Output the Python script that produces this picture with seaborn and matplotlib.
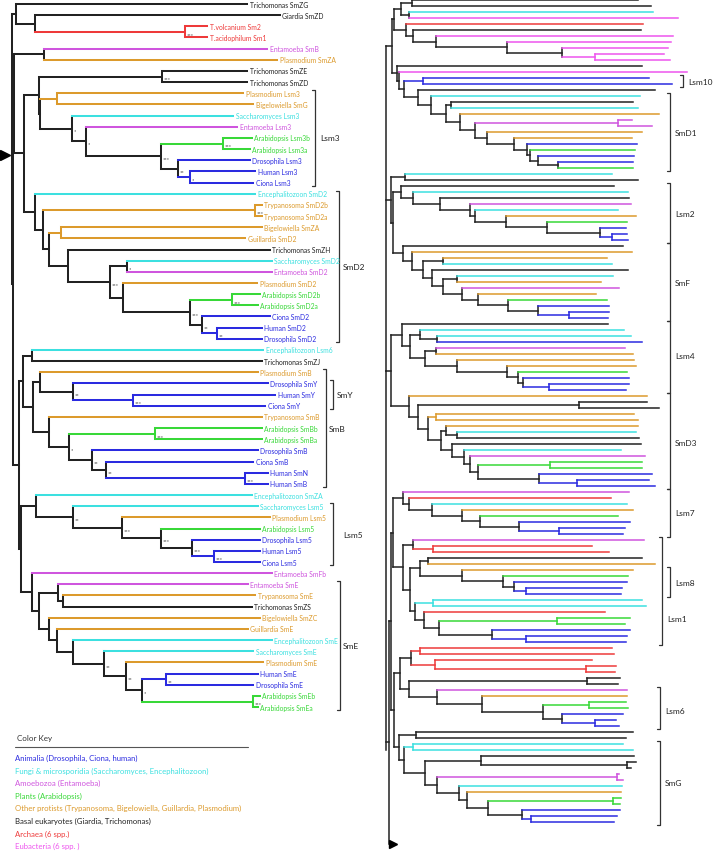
import re

import matplotlib
matplotlib.use("Agg")
import matplotlib.pyplot as plt
import pandas as pd
import seaborn as sns

# ---------------------------------------------------------------- colours
GROUPS = ["animal", "fungi", "amoeba", "plant", "protist", "basal", "archaea", "eubact"]
GROUP_HEX = ["#2b2be0", "#3ce0e0", "#cf55de", "#38d838", "#dc9a2c", "#222222", "#ee3a3a", "#ee55ee"]
KEY_LABELS = [
    "Animalia (Drosophila, Ciona, human)",
    "Fungi & microsporidia (Saccharomyces, Encephalitozoon)",
    "Amoebozoa (Entamoeba)",
    "Plants (Arabidopsis)",
    "Other protists (Trypanosoma, Bigelowiella, Guillardia, Plasmodium)",
    "Basal eukaryotes (Giardia, Trichomonas)",
    "Archaea (6 spp.)",
    "Eubacteria (6 spp. )",
]
GENUS_GROUP = {
    "Drosophila": "animal", "Human": "animal", "Ciona": "animal",
    "Saccharomyces": "fungi", "Encephalitozoon": "fungi",
    "Entamoeba": "amoeba", "Arabidopsis": "plant",
    "Plasmodium": "protist", "Bigelowiella": "protist",
    "Trypanosoma": "protist", "Guillardia": "protist",
    "Trichomonas": "basal", "Giardia": "basal",
    "T.volcanium": "archaea", "T.acidophilum": "archaea",
}
RIGHT_CODE = {"b": "animal", "c": "fungi", "m": "amoeba", "g": "plant",
              "o": "protist", "k": "basal", "r": "archaea", "e": "eubact"}

# ---------------------------------------------------------------- left tree
# node depth after ':' (distance from the panel root), bootstrap in [...]
L_TOP = "(Trichomonas SmZG:235,(Giardia SmZD:268,(T.volcanium Sm2:195,T.acidophilum Sm1:195):173[***]):23):4"
L_SMB_SMZA = "(Entamoeba SmB:255,Plasmodium SmZA:265):32"
L_LSM3 = ("((Trichomonas SmZE:235,Trichomonas SmZD:235):150[***],((Plasmodium Lsm3:231,Bigelowiella SmG:241):45,"
          "(Saccharomyces Lsm3:221,(Entamoeba Lsm3:225,((Arabidopsis Lsm3b:240,Arabidopsis Lsm3a:238):211[***],"
          "(Drosophila Lsm3:238,(Human Lsm3:243,Ciona Lsm3:241):178[*]):166[**]):149[***]):74[*]):60[*]):28):27")
L_SMD2 = ("(Encephalitozoon SmD2:243,((Trypanosoma SmD2b:250,Trypanosoma SmD2a:250):243[***],"
          "((Bigelowiella SmZA:250,Guillardia SmD2:233):49,(Trichomonas SmZH:258,"
          "((Saccharomyces SmD2:260,Entamoeba SmD2:260):115[*],(Plasmodium SmD2:245,"
          "((Arabidopsis SmD2b:248,Arabidopsis SmD2a:246):220[***],(Ciona SmD2:258,"
          "(Human SmD2:250,Drosophila SmD2:250):205[**]):190[**]):178[***]):111):98[***]):56):37):31):23")
L_SMY_SMB = ("((Encephalitozoon Lsm6:251,Trichomonas SmZJ:250):20,((Plasmodium SmB:246,(Drosophila SmY:256,"
             "(Human SmY:263,Ciona SmY:253):121[***]):61[**]):28,(Trypanosoma SmB:250,"
             "((Arabidopsis SmBb:250,Arabidopsis SmBa:250):143[***],(Drosophila SmB:246,(Ciona SmB:241,"
             "(Human SmN:256,Human SmB:256):233[***]):94[**]):80[**]):57[*]):37):21):11")
L_LSM5 = ("(Encephalitozoon SmZA:240,(Saccharomyces Lsm5:246,(Plasmodium Lsm5:258,(Arabidopsis Lsm5:248,"
          "(Drosophila Lsm5:248,(Human Lsm5:248,Ciona Lsm5:248):202[***]):180[***]):149[***]):110[***]):61[**]):24")
L_SME = ("(Entamoeba SmFb:260,((Entamoeba SmE:236,(Trypanosoma SmE:243,Trichomonas SmZS:240):51):46,"
         "(Bigelowiella SmZC:248,(Guillardia SmE:236,(Encephalitozoon SmE:260,(Saccharomyces SmE:241,"
         "(Plasmodium SmE:251,((Human SmE:246,Drosophila SmE:241):154[**],"
         "(Arabidopsis SmEb:248,Arabidopsis SmEa:246):241[***]):130[*]):114[**]):92[**]):61):45):37):27):20")
LEFT_TREE = (f"({L_TOP},(({L_SMB_SMZA},({L_LSM3},{L_SMD2}):12):2,"
             f"({L_SMY_SMB},({L_LSM5},{L_SME}):9):7):1):0")

# ---------------------------------------------------------------- right tree (unlabelled)
R_G12 = ("((((k:252,k:265):26,(c:267,e:292):23):15,(r:257,(k:255,(e:287,(e:285,(e:282,(e:278,e:284):209):176)"
         ":121):50):27):20):8,(k:256,(e:301,((b:263,b:286):37,(k:269,(c:254,((k:247,c:252):65,(o:273,"
         "((m:246,m:266):232,(o:256,(o:246,(b:251,(g:249,(b:248,(b:247,g:247):172):152):144):141):128):101)"
         ":89):74):60):45):32):18):13):11):6")
R_LSM2 = "(k:228,(c:242,(k:243,(m:245,(c:232,(o:250,(g:241,(b:240,(b:241,b:242):226):214):161):120):89):84):54):27):15"
R_SMF = ("(k:237,(o:246,((o:221,c:226):57,(k:242,((c:227,o:215):71,(m:233,(o:210,(g:221,(b:223,"
         "(b:223,b:222):183):152):122):92):76):57):46):37):26):17")
R_LSM4 = ("(k:222,((c:238,(c:245,b:256):51):34,((m:239,o:247):50,(o:248,(o:250,(g:241,(b:243,"
          "(b:243,b:240):163):137):132):121):71):39):24):16")
R_SMD3 = ("(o:261,((k:261,k:273):193,((o:248,o:252):50,((o:252,(c:250,k:253):71):60,(k:255,(c:235,"
          "(m:259,((g:256,g:256):164,(b:266,(b:263,b:269):191):153):92):84):78):66):55):42):32):23")
R_LSM7 = "(m:243,(r:225,(c:241,(o:247,(g:232,(b:244,(b:239,b:237):173):133):94):76):46):23):17"
R_LSM1 = ("((m:258,(r:206,r:223):47):27,(((k:256,o:269):42,(o:247,(g:242,(b:241,(b:236,b:235):140):128)"
          ":117):76):34,((c:256,c:260):47,(r:219,((g:244,g:239):171,(b:244,(b:241,b:240):140):106):53):38):29):24):17")
R_LSM6 = ("(((r:226,r:228):34,(r:206,(r:230,r:229):200):49[=]):25,((k:234,k:232):201,(m:241,(o:241,"
          "((g:240,g:242):203,(b:237,(b:230,b:233):209):176):157):96):51):23):14")
R_SMG = ("((k:247,k:240):30,((c:237,c:247):27,((k:248,(k:250,k:245):241):95,((m:233,m:237):231,(c:236,"
         "(o:235,((g:235,g:234):227,(b:234,(b:231,b:228):145):136):102):81):73):51):39):18):13")
R_TOP = f"({R_G12},((c:226,k:252):19,({R_LSM2},{R_SMF}):7):5,({R_LSM4},{R_SMD3}):5):0"
R_BOTTOM = f"(({R_LSM7},{R_LSM1}):7,({R_LSM6},{R_SMG}):8):5"
R_STEM_DEPTH = 3

# clade brackets: (label, first leaf, last leaf)
LEFT_CLADES = [("Lsm3", 8, 16), ("SmD2", 17, 30), ("SmY", 34, 36), ("SmB", 33, 43),
               ("Lsm5", 45, 50), ("SmE", 52, 63)]
LEFT_BRACKET_X = [315, 339, 333, 326, 333, 340]
LEFT_LABEL_X = [320, 343, 337, 329, 343, 343]
RIGHT_CLADES = [("Lsm10", 13, 14), ("SmD1", 16, 28), ("Lsm2", 31, 40), ("SmF", 41, 53),
                ("Lsm4", 54, 65), ("SmD3", 66, 81), ("Lsm7", 82, 89), ("Lsm1", 90, 107),
                ("Lsm8", 95, 99), ("Lsm6", 115, 121), ("SmG", 124, 137)]
RIGHT_BRACKET_X = [683, 670, 670, 670, 670, 670, 670, 662, 670, 660, 660]
RIGHT_LABEL_DY = [0, 0, 0, 0, -2, 2, 0, 28, 0, 3, 0]

BLACK = GROUP_HEX[GROUPS.index("basal")]


def parse(text):
    s = re.sub(r"\s*([(),:\[\]])\s*", r"\1", " ".join(text.split()))
    pos = 0

    def node():
        nonlocal pos
        kids, name = [], None
        if s[pos] == "(":
            pos += 1
            kids.append(node())
            while s[pos] == ",":
                pos += 1
                kids.append(node())
            pos += 1
        else:
            j = s.index(":", pos)
            name, pos = s[pos:j], j
        pos += 1
        m = re.match(r"[\d.]+", s[pos:])
        depth = float(m.group())
        pos += m.end()
        tag = ""
        if pos < len(s) and s[pos] == "[":
            j = s.index("]", pos)
            tag, pos = s[pos + 1:j], j + 1
        return {"name": name, "kids": kids, "d": depth, "tag": tag}

    return node()


def layout(node, x0, y0, dy, count):
    node["x"] = x0 + node["d"]
    if node["kids"]:
        for k in node["kids"]:
            layout(k, x0, y0, dy, count)
        node["y"] = (node["kids"][0]["y"] + node["kids"][-1]["y"]) / 2
    else:
        node["y"] = y0 + count[0] * dy
        count[0] += 1


def paint(node, leaf_hex):
    if not node["kids"]:
        node["c"] = leaf_hex(node["name"])
        return {node["c"]}
    found = set()
    for k in node["kids"]:
        found |= paint(k, leaf_hex)
    cherry = all(not k["kids"] for k in node["kids"])
    one = len(found) == 1 and (cherry or "=" in node["tag"])
    node["c"] = next(iter(found)) if one else BLACK
    return found


def collect(node, rows, leaves, parent_x=None):
    if parent_x is not None:
        add_seg(rows, parent_x, node["y"], node["x"], node["y"], node["c"])
    if node["kids"]:
        add_seg(rows, node["x"], node["kids"][0]["y"], node["x"], node["kids"][-1]["y"], node["c"])
        for k in node["kids"]:
            collect(k, rows, leaves, node["x"])
    else:
        leaves.append(node)


def add_seg(rows, x1, y1, x2, y2, c):
    sid = len(rows) // 2
    rows.append({"seg": sid, "x": x1, "y": y1, "c": c})
    rows.append({"seg": sid, "x": x2, "y": y2, "c": c})


def walk(node):
    yield node
    for k in node["kids"]:
        yield from walk(k)


hex_of = dict(zip(GROUPS, GROUP_HEX))

# ---- left panel
left = parse(LEFT_TREE)
layout(left, 12, 5, 11.16, [0])
paint(left, lambda n: hex_of[GENUS_GROUP[n.split()[0]]])
left_rows, left_leaves = [], []
collect(left, left_rows, left_leaves)

# ---- right panel
r_top, r_bot = parse(R_TOP), parse(R_BOTTOM)
cnt = [0]
layout(r_top, 386, 1, 6, cnt)
layout(r_bot, 386, 1, 6, cnt)
right_hex = lambda n: hex_of[RIGHT_CODE[n]]
paint(r_top, right_hex)
paint(r_bot, right_hex)
right_rows, right_leaves = [], []
stem_x = 386 + R_STEM_DEPTH
collect(r_top, right_rows, right_leaves)
collect(r_bot, right_rows, right_leaves, stem_x)
last_y = right_leaves[-1]["y"]
join_y = last_y - 80
add_seg(right_rows, r_top["x"], r_top["kids"][-1]["y"], r_top["x"], join_y + 8, BLACK)
add_seg(right_rows, r_top["x"], join_y, stem_x, join_y, BLACK)
add_seg(right_rows, stem_x, r_bot["y"], stem_x, last_y + 22, BLACK)

# ---------------------------------------------------------------- draw
sns.set_theme(style="white")
plt.rcParams["font.family"] = ["Lato", "DejaVu Sans"]

fig = plt.figure(figsize=(7.14, 8.53), dpi=100)
ax = fig.add_axes([0, 0, 1, 1])

palette = {c: c for c in GROUP_HEX}
for rows, lw in [(left_rows, 1.45), (right_rows, 1.1)]:
    df = pd.DataFrame(rows)
    sns.lineplot(data=df, x="x", y="y", hue="c", units="seg", estimator=None, sort=False,
                 palette=palette, linewidth=lw, legend=False, ax=ax,
                 solid_capstyle="projecting")

for n in left_leaves:
    ax.text(n["x"] + 2.5, n["y"], n["name"], fontsize=4.9, color=n["c"], va="center", ha="left")
for n in walk(left):
    if n["tag"] and n["tag"] != "=":
        ax.text(n["x"] + 1.5, n["y"] + 2.6, n["tag"], fontsize=4.1, color="#333333",
                va="center", ha="left")

# root arrows
ax.plot([left["x"] - 7], [left["y"] + 6], marker=">", markersize=7, color="black")
ax.plot([stem_x + 4], [last_y + 22], marker=">", markersize=6, color="black")


def bracket(x, y0, y1, label, lx, ly):
    ax.plot([x - 3, x, x, x - 3], [y0, y0, y1, y1], color="#333333", lw=0.9)
    ax.text(lx, ly, label, fontsize=6, color="#222222", va="center", ha="left")


for (lab, a, b), bx, lx in zip(LEFT_CLADES, LEFT_BRACKET_X, LEFT_LABEL_X):
    y0, y1 = left_leaves[a]["y"] - 3, left_leaves[b]["y"] + 3
    bracket(bx, y0, y1, lab, lx, (y0 + y1) / 2)
for (lab, a, b), bx, dy in zip(RIGHT_CLADES, RIGHT_BRACKET_X, RIGHT_LABEL_DY):
    y0, y1 = right_leaves[a]["y"] - 3, right_leaves[b]["y"] + 3
    bracket(bx, y0, y1, lab, bx + 5, (y0 + y1) / 2 + dy)

# colour key
ax.text(17, 739, "Color Key", fontsize=5.8, color="#333333", va="center", ha="left")
ax.plot([15, 248], [748, 748], color="#555555", lw=0.8)
for i, (lab, c) in enumerate(zip(KEY_LABELS, GROUP_HEX)):
    ax.text(15, 758.5 + i * 12.6, lab, fontsize=5.6, color=c, va="center", ha="left")

ax.set_xlim(0, 714)
ax.set_ylim(853, 0)
ax.axis("off")
fig.savefig("out.png", dpi=100)
